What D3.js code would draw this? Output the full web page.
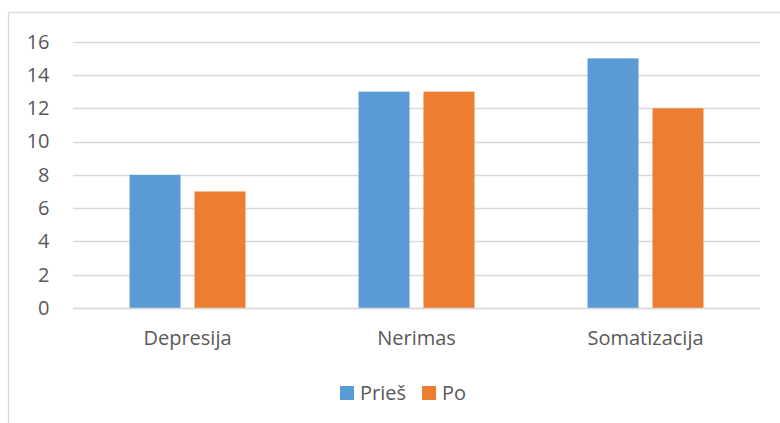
<!DOCTYPE html>
<html>
<head>
<meta charset="utf-8">
<script src="https://cdn.jsdelivr.net/npm/d3@7"></script>
<style>
  html, body { margin: 0; padding: 0; background: #fff; }
  svg { display: block; font-family: "Open Sans", sans-serif; }
</style>
</head>
<body>
<svg id="chart" width="780" height="423"></svg>
<script>
// Chart data
const categories = ["Depresija", "Nerimas", "Somatizacija"];
const seriesNames = ["Prieš", "Po"];
const priesValues = [8, 13, 15];
const poValues = [7, 13, 12];
const yTicks = [0, 2, 4, 6, 8, 10, 12, 14, 16];
const seriesColors = ["#5B9BD5", "#ED7D31"];

const series = [priesValues, poValues];
const svg = d3.select("#chart");

// Outer chart frame (only left and top edges are inside the view)
svg.append("rect")
  .attr("x", 8.5).attr("y", 12.5)
  .attr("width", 800).attr("height", 430)
  .attr("fill", "none").attr("stroke", "#d9d9d9").attr("stroke-width", 1.3);

const plot = { left: 73, right: 760, top: 41.7, bottom: 308 };

const y = d3.scaleLinear().domain([0, 16]).range([plot.bottom, plot.top]);
const x0 = d3.scaleBand().domain(categories).range([plot.left, plot.right]).padding(0);
const x1 = d3.scaleBand().domain(seriesNames).range([0, x0.bandwidth()])
  .paddingInner(0.215).paddingOuter(0.87);

// Gridlines
svg.append("g").selectAll("line")
  .data(yTicks)
  .join("line")
  .attr("x1", plot.left).attr("x2", plot.right)
  .attr("y1", d => Math.round(y(d)) + 0.5).attr("y2", d => Math.round(y(d)) + 0.5)
  .attr("stroke", "#d9d9d9").attr("stroke-width", 1.5);

// Y axis labels
const yAxis = d3.axisLeft(y).tickValues(yTicks).tickSize(0).tickPadding(0);
const yg = svg.append("g").attr("transform", `translate(${49.5},0)`).call(yAxis);
yg.select(".domain").remove();
yg.selectAll("text")
  .attr("font-family", "'Open Sans', sans-serif")
  .attr("font-size", 20).attr("fill", "#595959");

// Bars
const groups = svg.append("g").selectAll("g")
  .data(categories)
  .join("g")
  .attr("transform", d => `translate(${x0(d)},0)`);

groups.selectAll("rect")
  .data((d, i) => seriesNames.map((s, j) => ({ s, j, v: series[j][i] })))
  .join("rect")
  .attr("x", d => x1(d.s))
  .attr("width", x1.bandwidth())
  .attr("y", d => y(d.v))
  .attr("height", d => y(0) - y(d.v))
  .attr("fill", d => seriesColors[d.j]);

// Baseline drawn over bars
svg.append("line")
  .attr("x1", plot.left).attr("x2", plot.right)
  .attr("y1", Math.round(y(0)) + 0.5).attr("y2", Math.round(y(0)) + 0.5)
  .attr("stroke", "#d9d9d9").attr("stroke-width", 1.5);

// Category labels
const xAxis = d3.axisBottom(x0).tickSize(0).tickPadding(0);
const xg = svg.append("g").attr("transform", `translate(0,${plot.bottom + 23})`).call(xAxis);
xg.select(".domain").remove();
xg.selectAll("text")
  .attr("font-family", "'Open Sans', sans-serif")
  .attr("font-size", 20).attr("fill", "#595959");

// Legend
const legendItems = [
  { name: seriesNames[0], color: seriesColors[0], x: 340 },
  { name: seriesNames[1], color: seriesColors[1], x: 422 }
];
const lg = svg.append("g").selectAll("g").data(legendItems).join("g")
  .attr("transform", d => `translate(${d.x},386)`);
lg.append("rect").attr("width", 14).attr("height", 14).attr("fill", d => d.color);
lg.append("text")
  .attr("x", 20).attr("y", 7).attr("dy", "0.35em")
  .attr("font-size", 20).attr("fill", "#595959")
  .text(d => d.name);
</script>
</body>
</html>
